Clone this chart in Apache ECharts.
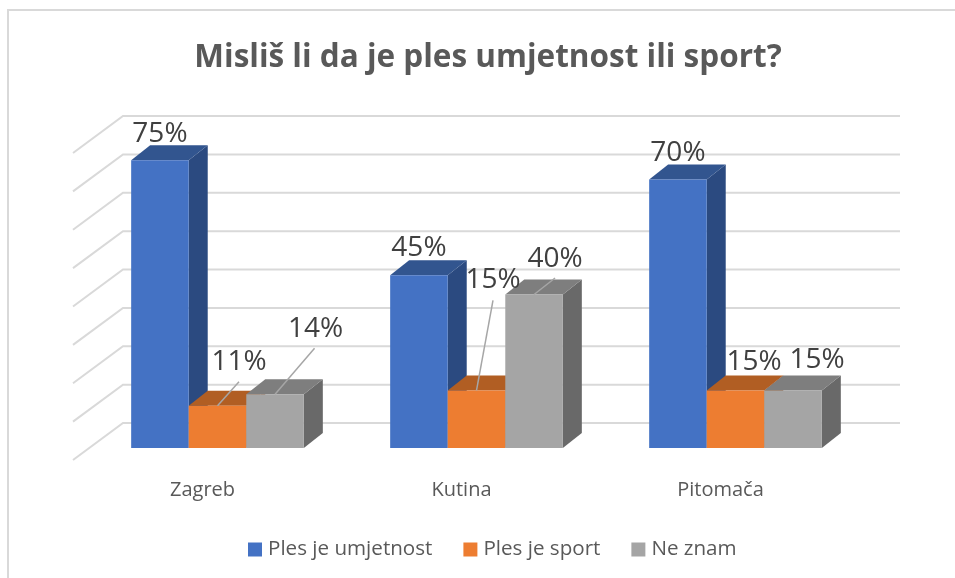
<!DOCTYPE html>
<html><head><meta charset="utf-8">
<style>html,body{margin:0;padding:0;background:#fff}#c{width:955px;height:578px}</style>
<script src="https://cdn.jsdelivr.net/npm/echarts@6/dist/echarts.min.js"></script>
</head><body><div id="c"></div>
<script>
const titleText = 'Misliš li da je ples umjetnost ili sport?';
const categories = ['Zagreb', 'Kutina', 'Pitomača'];
const seriesNames = ['Ples je umjetnost', 'Ples je sport', 'Ne znam'];
const umjetnost = [75, 45, 70];
const sport = [11, 15, 15];
const neZnam = [14, 40, 15];
const gridTicks = [0, 10, 20, 30, 40, 50, 60, 70, 80];

// layout / styling, kept apart from the values
const FONT = '"Open Sans", sans-serif';
const faces = [
  {front:'#4472C4', top:'#32558F', side:'#2B4A80'},
  {front:'#ED7D31', top:'#B15E23', side:'#A85A22'},
  {front:'#A5A5A5', top:'#7E7E7E', side:'#696969'}
];
const floorShift = [15, -12];   // bars stand this far behind the front edge of the floor
const barDepth = [19, -15];
const wallDepth = [50, -37];
// label offset from the middle of the bar's top front edge, per [series][category]
const labelShift = [
  [[0,-26],[0,-27],[0,-26]],
  [[21.5,-44],[16.5,-110],[18.5,-28]],
  [[40.5,-65],[21,-35],[24,-30]]
];
// start of leader line, relative to the label centre (null = no leader)
const leaderShift = [
  [null,null,null],
  [[0,20],[0,20],null],
  [[-1,19],[0,18.5],null]
];

const allValues = [umjetnost, sport, neZnam];

function barItem(s) {
  return function (params, api) {
    const cat = api.value(0), val = api.value(1);
    const band = api.size([1, 0])[0];
    const w = band / 4.5;
    const c = api.coord([cat, val]), z = api.coord([cat, 0]);
    const x0 = c[0] + floorShift[0] + (s - 1.5) * w;
    const x1 = x0 + w;
    const yT = c[1] + floorShift[1], yB = z[1] + floorShift[1];
    const dx = barDepth[0], dy = barDepth[1];
    const f = faces[s];
    const poly = (pts, fill) => ({type:'polygon', shape:{points:pts}, style:{fill:fill}});
    return {type:'group', children:[
      poly([[x1,yB],[x1+dx,yB+dy],[x1+dx,yT+dy],[x1,yT]], f.side),
      poly([[x0,yT],[x1,yT],[x1+dx,yT+dy],[x0+dx,yT+dy]], f.top),
      poly([[x0,yB],[x1,yB],[x1,yT],[x0,yT]], f.front)
    ]};
  };
}

function gridItem(params, api) {
  const band = api.size([1, 0])[0];
  const c = api.coord([0, api.value(1)]);
  const x = c[0] - band / 2, y = c[1];
  const bx = x + wallDepth[0], by = y + wallDepth[1];
  return {type:'polyline',
    shape:{points:[[x,y],[bx,by],[bx + band * categories.length, by]]},
    style:{fill:null, stroke:'#D9D9D9', lineWidth:2}};
}

function labelItem(params, api) {
  const cat = api.value(0), val = api.value(1), s = api.value(2);
  const band = api.size([1, 0])[0];
  const w = band / 4.5;
  const c = api.coord([cat, val]);
  const ax = c[0] + floorShift[0] + (s - 1) * w;
  const ay = c[1] + floorShift[1];
  const off = labelShift[s][cat], lead = leaderShift[s][cat];
  const lx = ax + off[0], ly = ay + off[1];
  const children = [];
  if (lead) children.push({type:'line',
    shape:{x1:lx + lead[0], y1:ly + lead[1], x2:ax, y2:ay},
    style:{stroke:'#A6A6A6', lineWidth:1.5}});
  children.push({type:'text', style:{x:lx, y:ly, text:val + '%', align:'center', verticalAlign:'middle',
    font:'28px ' + FONT, fill:'#404040'}});
  return {type:'group', children:children};
}

const labelRows = [];
allValues.forEach((vals, s) => vals.forEach((v, i) => labelRows.push([i, v, s])));

const option = {
  animation:false,
  backgroundColor:'#fff',
  title:{text:titleText, left:483, top:37, textAlign:'center',
    textStyle:{fontFamily:FONT, fontSize:31.5, fontWeight:'bold', color:'#595959'}},
  legend:{data:seriesNames, left:243, top:534, itemWidth:14, itemHeight:14, itemGap:31, icon:'rect',
    textStyle:{fontFamily:FONT, fontSize:20.6, color:'#595959', padding:[0,0,0,1]}},
  grid:{left:73, width:777, top:153, height:307},
  xAxis:{type:'category', data:categories, axisLine:{show:false}, axisTick:{show:false},
    axisLabel:{fontFamily:FONT, fontSize:20, color:'#595959', margin:20}},
  yAxis:{type:'value', min:0, max:80, interval:10, show:false, splitLine:{show:false}},
  graphic:[{type:'polyline', silent:true, z:-1,
    shape:{points:[[8,578],[8,10],[955,10]]}, style:{fill:null, stroke:'#D9D9D9', lineWidth:2}}],
  series:[
    {type:'custom', renderItem:gridItem, silent:true, clip:false, z:1,
      data:gridTicks.map(t => [0, t]), encode:{x:0, y:1}},
    ...seriesNames.map((n, s) => ({
      type:'custom', name:n, renderItem:barItem(s), clip:false, z:2, itemStyle:{color:faces[s].front},
      data:allValues[s].map((v, i) => [i, v]), encode:{x:0, y:1}
    })),
    {type:'custom', renderItem:labelItem, silent:true, clip:false, z:3,
      data:labelRows, encode:{x:0, y:1}}
  ]
};
echarts.init(document.getElementById('c')).setOption(option);
</script></body></html>
